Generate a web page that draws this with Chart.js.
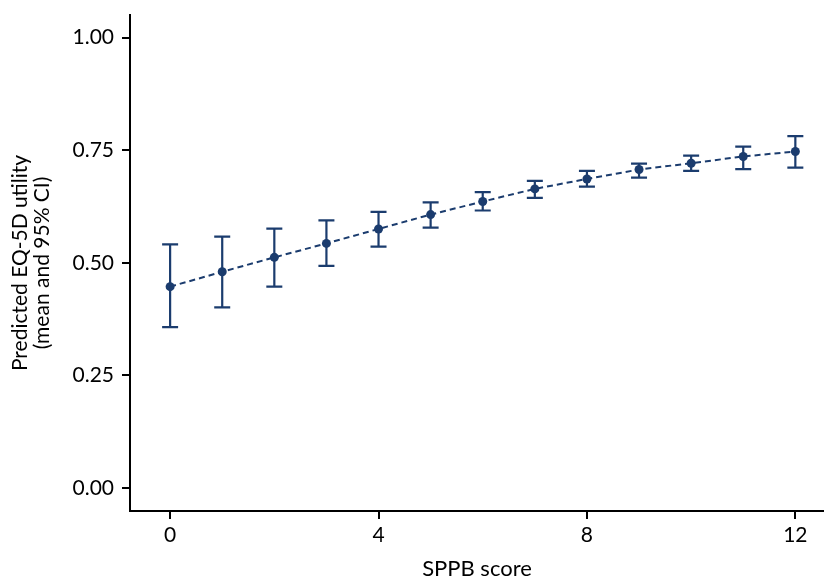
<!DOCTYPE html>
<html>
<head>
<meta charset="utf-8">
<script src="https://cdn.jsdelivr.net/npm/chart.js@4.4.1/dist/chart.umd.min.js"></script>
<style>
html,body{margin:0;padding:0;background:#fff;}
#wrap{width:824px;height:577px;position:relative;}
</style>
</head>
<body>
<div id="wrap"><canvas id="c" width="824" height="577"></canvas></div>
<script>
const sppbScores = [0,1,2,3,4,5,6,7,8,9,10,11,12];
const meanUtility = [0.447,0.480,0.512,0.543,0.575,0.607,0.636,0.664,0.686,0.707,0.721,0.736,0.747];
const lowerCI = [0.357,0.401,0.447,0.493,0.536,0.578,0.616,0.644,0.669,0.689,0.704,0.708,0.711];
const upperCI = [0.541,0.558,0.576,0.594,0.613,0.634,0.657,0.682,0.704,0.720,0.738,0.758,0.781];
const xTicks = [0,4,8,12];
const yTicks = [0,0.25,0.5,0.75,1.0];

const navy = '#1b3c6e';
const FONT = 'Lato';

const errorBars = {
  id: 'errorBars',
  afterDatasetsDraw(chart) {
    const ctx = chart.ctx, xs = chart.scales.x, ys = chart.scales.y;
    ctx.save();
    ctx.strokeStyle = navy;
    ctx.lineWidth = 2.2;
    const cap = 8;
    sppbScores.forEach((s, i) => {
      const x = xs.getPixelForValue(s);
      const yl = ys.getPixelForValue(lowerCI[i]);
      const yu = ys.getPixelForValue(upperCI[i]);
      ctx.beginPath();
      ctx.moveTo(x, yl); ctx.lineTo(x, yu);
      ctx.moveTo(x - cap, yl); ctx.lineTo(x + cap, yl);
      ctx.moveTo(x - cap, yu); ctx.lineTo(x + cap, yu);
      ctx.stroke();
    });
    ctx.restore();
  }
};

new Chart(document.getElementById('c'), {
  type: 'line',
  data: {
    datasets: [{
      data: sppbScores.map((s, i) => ({x: s, y: meanUtility[i]})),
      borderColor: navy,
      backgroundColor: navy,
      borderWidth: 2,
      borderDash: [6, 4],
      pointRadius: 4.5,
      pointBorderWidth: 0,
      pointBackgroundColor: navy,
      tension: 0
    }]
  },
  plugins: [errorBars],
  options: {
    responsive: false,
    animation: false,
    devicePixelRatio: 1,
    layout: {autoPadding: false, padding: {top: 15, right: 0, left: 0, bottom: 0}},
    plugins: {legend: {display: false}, tooltip: {enabled: false}},
    scales: {
      x: {
        type: 'linear',
        min: -0.77, max: 12.55,
        afterBuildTicks: s => { s.ticks = xTicks.map(v => ({value: v})); },
        afterFit: s => { s.height = 66; s.paddingLeft = 0; s.paddingRight = 0; },
        grid: {display: true, drawOnChartArea: false, drawTicks: true, tickLength: 8, color: '#000', lineWidth: 2},
        border: {display: true, color: '#000', width: 2},
        ticks: {color: '#000', font: {family: FONT, size: 21}, padding: 4, maxRotation: 0,
                callback: v => String(v)},
        title: {display: true, text: 'SPPB score', color: '#000', font: {family: FONT, size: 22, lineHeight: 0.7}, padding: {top: 0, bottom: 0}}
      },
      y: {
        type: 'linear',
        min: -0.051, max: 1.050,
        afterBuildTicks: s => { s.ticks = yTicks.map(v => ({value: v})); },
        afterFit: s => { s.width = 130; s.paddingTop = 0; s.paddingBottom = 0; },
        grid: {display: true, drawOnChartArea: false, drawTicks: true, tickLength: 8, color: '#000', lineWidth: 2},
        border: {display: true, color: '#000', width: 2},
        ticks: {color: '#000', font: {family: FONT, size: 21}, padding: 8,
                callback: v => Number(v).toFixed(2)},
        title: {display: true, text: ['Predicted EQ-5D utility', '(mean and 95% CI)'], color: '#000',
                font: {family: FONT, size: 21, lineHeight: 1.05}, padding: {top: 9, bottom: 0}}
      }
    }
  }
});
</script>
</body>
</html>
